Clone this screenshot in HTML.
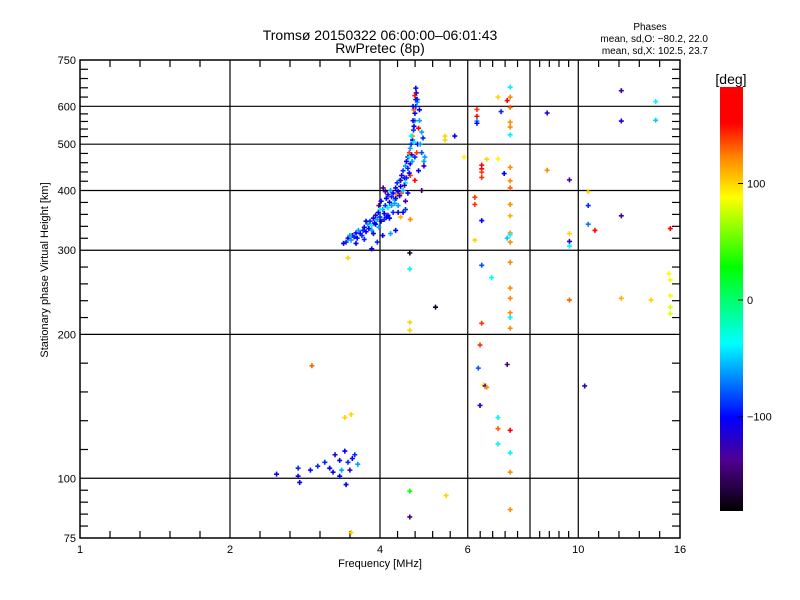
<!DOCTYPE html>
<html><head><meta charset="utf-8"><style>
body{margin:0;background:#fff;}
svg{display:block;font-family:"Liberation Sans",sans-serif;}
</style></head><body>
<svg id="chart" width="800" height="600">
<defs>
<linearGradient id="cbar" x1="0" y1="0" x2="0" y2="1">
<stop offset="0" stop-color="#ff0000"/><stop offset="0.085" stop-color="#ff0000"/>
<stop offset="0.17" stop-color="#ff8c00"/><stop offset="0.26" stop-color="#ffff00"/>
<stop offset="0.425" stop-color="#00ff00"/><stop offset="0.605" stop-color="#00ffff"/>
<stop offset="0.78" stop-color="#0000ff"/><stop offset="0.88" stop-color="#500090"/>
<stop offset="1" stop-color="#000000"/></linearGradient>
</defs>
<text x="380" y="40" font-size="14" text-anchor="middle">Tromsø 20150322 06:00:00–06:01:43</text>
<text x="380" y="53" font-size="14" text-anchor="middle">RwPretec (8p)</text>
<text x="650" y="30" font-size="10" text-anchor="middle">Phases</text>
<text x="708" y="42" font-size="10" text-anchor="end">mean, sd,O: −80.2, 22.0</text>
<text x="708" y="54" font-size="10" text-anchor="end">mean, sd,X: 102.5, 23.7</text>
<g id="grid"></g>
<g id="ticks"></g>
<g id="marks"></g>
<rect x="80" y="60" width="600" height="478" fill="none" stroke="#000" stroke-width="1.5"/>
<text x="380" y="567" font-size="11" text-anchor="middle">Frequency [MHz]</text>
<text transform="translate(48,270) rotate(-90)" font-size="11" text-anchor="middle">Stationary phase Virtual Height [km]</text>
<rect x="720" y="87" width="23" height="424" fill="url(#cbar)"/>
<text x="731" y="84" font-size="14" text-anchor="middle">[deg]</text>
<g id="cbticks"></g>
</svg>
<script>
const xTickVals=[1,2,4,6,10,16];
const xGridVals=[2,4,6,8,10];
const xMajor=[1,2,4,6,8,10,16];
const yTickVals=[75,100,200,300,400,500,600,750];
const yGridVals=[100,200,300,400,500,600];
const cbTickVals=[100,0,-100];
const freq=[2.48,2.74,2.74,2.76,3.1,3.17,3.25,3.32,3.35,3.4,3.45,3.48,3.42,3.52,3.56,3.61,3.32,3.22,3.0,2.9,
3.38,3.42,3.45,3.5,3.52,3.55,3.58,3.6,3.62,3.65,3.7,3.72,3.75,3.78,3.8,3.82,3.85,3.88,3.9,3.92,3.95,3.97,4.0,4.02,3.98,4.02,4.05,4.08,4.1,4.12,4.15,4.15,4.18,4.2,4.22,4.25,4.28,4.3,4.32,4.33,4.35,4.38,4.4,4.42,4.42,4.45,4.48,4.5,4.5,4.52,4.55,4.55,4.58,4.6,4.6,4.62,4.63,4.65,4.65,4.67,4.68,4.68,4.7,4.7,4.72,4.72,4.73,4.7,4.72,4.75,4.8,4.68,4.78,4.85,4.85,4.9,4.9,4.85,4.7,4.6,4.5,4.4,4.6,4.3,4.2,4.05,3.95,3.85,4.45,4.5,4.35,4.06,4.1,
3.48,3.58,3.68,3.75,3.85,3.92,4.0,4.08,4.15,4.22,4.3,4.38,4.45,4.52,4.58,4.64,4.7,4.76,4.8,4.66,4.74,4.62,4.55,4.48,4.35,4.25,4.12,3.98,3.88,3.72,4.78,4.82,4.75,4.66,4.58,4.4,4.28,4.18,4.92,4.88,
4.59,4.59,5.17,4.59,4.59,3.45,2.92,3.4,3.5,4.59,5.43,4.59,3.5,5.4,5.4,5.9,6.55,5.65,
7.3,6.9,7.3,7.2,7.3,6.26,7.0,6.26,6.26,6.26,7.3,7.3,7.3,6.9,6.4,6.4,6.4,6.4,7.1,7.3,7.3,7.3,6.2,6.2,7.3,7.3,6.4,7.3,7.3,7.2,6.2,7.3,6.4,7.3,6.7,7.3,7.3,7.3,7.3,6.4,7.3,6.35,6.3,7.2,6.45,6.5,6.55,6.35,6.9,6.9,7.3,6.9,7.3,7.3,7.3,
8.66,8.66,9.6,9.6,9.6,9.6,9.6,10.3,12.2,12.2,14.3,14.3,10.47,10.47,12.2,10.47,10.8,15.3,12.2,14.0,15.2,15.3,15.3,15.3,15.3];
const height=[102,105,101,98,108,105,112,109,104,114,108,104,97,110,112,107,101,103,106,104,
310,312,318,315,322,320,326,318,330,325,330,335,328,340,333,345,338,350,342,355,348,360,352,345,372,380,365,358,372,385,368,392,378,400,388,395,382,405,392,415,398,420,408,430,395,440,425,450,415,460,445,470,480,455,490,500,475,510,520,535,505,545,560,580,600,620,640,632,655,612,590,590,540,530,480,460,450,400,420,430,380,352,348,330,325,322,312,302,360,365,360,405,398,
322,310,322,345,330,340,365,348,355,372,385,390,400,425,435,460,470,500,560,560,480,520,395,410,372,360,352,335,325,316,440,500,620,600,470,420,376,350,470,515,
296,274,228,212,204,289,172,134,136,94,92,83,77,520,510,470,465,520,
658,627,627,617,597,591,585,572,559,553,556,543,523,466,452,444,437,426,434,447,419,405,387,374,374,354,346,326,323,318,315,312,279,283,263,250,238,222,217,211,206,190,170,173,157,156,155,142,134,127,126,118,113,103,86,
581,441,421,325,313,306,236,156,647,559,614,561,398,372,354,340,330,333,238,236,268,260,241,228,221];
const phase=[-100,-90,-110,-100,-90,-100,-110,-100,-60,-100,-90,-120,-100,-100,-90,-60,-100,-110,-90,-100,
-100,-90,-100,-60,-110,-90,-100,-100,-60,-100,-90,-110,-100,-60,-100,-90,-40,-100,-100,-120,-60,-100,-90,-100,-140,-100,-60,-100,-90,-100,-40,-110,-100,-60,-90,-100,-50,-100,120,-90,-100,-60,-100,-120,130,-90,-100,-60,-40,-100,-90,-110,140,-100,-60,-90,-140,-100,120,-90,-40,-100,-60,-100,-90,-100,-110,150,-100,-60,-100,130,160,-60,-80,-60,-120,-150,160,140,-130,110,120,-100,-60,-100,-90,-100,-100,-90,-110,-140,-130,
-60,-100,-90,-110,-60,-100,-40,-90,-100,-60,-110,-100,-50,-90,-100,-60,-90,-100,-60,-110,140,-40,-100,-130,-60,-90,-100,-60,-110,-90,-100,-60,-90,-100,-40,-120,-60,-100,-60,-90,
-170,-40,-170,100,100,100,130,100,100,30,100,-140,100,100,100,90,100,-100,
-40,100,120,160,130,140,-90,150,-60,-100,120,120,-40,90,160,160,140,140,-100,120,120,130,140,140,120,110,-100,120,-40,-50,100,120,-80,120,-30,120,120,120,-40,140,120,140,-80,-140,90,-130,120,-120,-40,130,160,-40,-40,120,120,
-110,120,-130,100,-120,-40,130,-120,-130,-110,-40,-50,100,-90,-130,-70,160,170,110,100,90,90,90,80,80];
const X0=80,X1=680,Y0=538,Y1=60;
function xs(f){return X0+(X1-X0)*Math.log2(f)/4;}
function ys(h){return Y0-(Y0-Y1)*Math.log10(h/75);}
const stops=[[180,[255,0,0]],[152,[255,0,0]],[120,[255,140,0]],[88,[255,255,0]],[28,[0,255,0]],[-37,[0,255,255]],[-100,[0,0,255]],[-137,[80,0,144]],[-180,[0,0,0]]];
function col(v){for(let i=0;i<stops.length-1;i++){const a=stops[i],b=stops[i+1];if(v<=a[0]&&v>=b[0]){const t=(a[0]-v)/(a[0]-b[0]);const c=a[1].map((x,k)=>Math.round(x+(b[1][k]-x)*t));return `rgb(${c[0]},${c[1]},${c[2]})`;}}return v>0?'#f00':'#000';}
const NS='http://www.w3.org/2000/svg';
function mk(tag,attrs,parent){const e=document.createElementNS(NS,tag);for(const k in attrs)e.setAttribute(k,attrs[k]);parent.appendChild(e);return e;}
const grid=document.getElementById('grid'),ticks=document.getElementById('ticks'),marks=document.getElementById('marks'),cbt=document.getElementById('cbticks');
xGridVals.forEach(v=>{const l=mk('line',{x1:xs(v),x2:xs(v),y1:Y1,y2:Y0,stroke:'#000','stroke-width':1.2},grid);

});
yGridVals.forEach(v=>{const l=mk('line',{x1:X0,x2:X1,y1:ys(v),y2:ys(v),stroke:'#000','stroke-width':1.2},grid);

});
for(let i=0;i<xMajor.length-1;i++){const a=xs(xMajor[i]),b=xs(xMajor[i+1]);for(let k=1;k<5;k++){const x=a+(b-a)*k/5;mk('line',{x1:x,x2:x,y1:Y1,y2:Y1+7,stroke:'#000','stroke-width':1.2},ticks);mk('line',{x1:x,x2:x,y1:Y0,y2:Y0-7,stroke:'#000','stroke-width':1.2},ticks);}}
for(let i=0;i<yTickVals.length-1;i++){const a=ys(yTickVals[i]),b=ys(yTickVals[i+1]);for(let k=1;k<5;k++){const y=a+(b-a)*k/5;mk('line',{x1:X0,x2:X0+8,y1:y,y2:y,stroke:'#000','stroke-width':1.2},ticks);mk('line',{x1:X1,x2:X1-8,y1:y,y2:y,stroke:'#000','stroke-width':1.2},ticks);}}
xTickVals.forEach(v=>{const t=mk('text',{x:xs(v),y:553,'font-size':11,'text-anchor':'middle'},ticks);t.textContent=v;

});
yTickVals.forEach(v=>{const t=mk('text',{x:76,y:ys(v)+4,'font-size':11,'text-anchor':'end'},ticks);t.textContent=v;

});
cbTickVals.forEach(v=>{const y=300-v*1.165;mk('line',{x1:738,x2:743,y1:y,y2:y,stroke:'#000'},cbt);const t=mk('text',{x:747,y:y+4,'font-size':11},cbt);t.textContent=String(v).replace('-','−');

});
for(let i=0;i<freq.length;i++){const x=xs(freq[i]),y=ys(height[i]);
const p=mk('path',{d:`M${x-2.5},${y}H${x+2.5}M${x},${y-2.5}V${y+2.5}`,stroke:col(phase[i]),'stroke-width':1.6,fill:'none'},marks);

}
</script>
</body></html>
